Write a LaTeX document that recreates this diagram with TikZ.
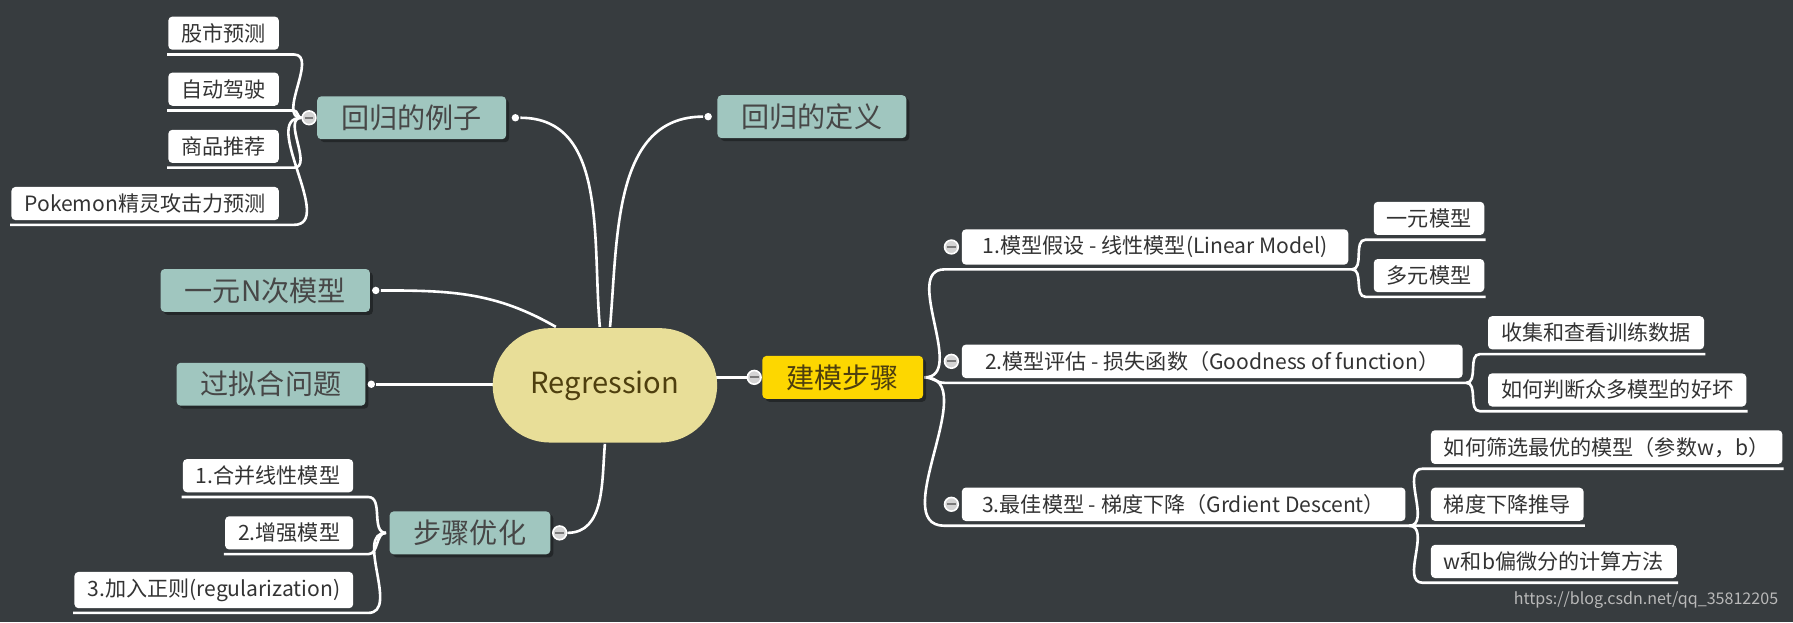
\documentclass[tikz,border=0pt]{standalone}
\usepackage{fontspec}
\setmainfont{Noto Sans CJK SC}
\usetikzlibrary{calc, positioning, shapes.misc, shadows, backgrounds}
\definecolor{cbg}{HTML}{373C3F}
\definecolor{cteal}{HTML}{A0C6BF}
\definecolor{cyellow}{HTML}{E8DE98}
\definecolor{cgold}{HTML}{FDD700}
\definecolor{cink}{HTML}{333333}
\definecolor{ctopic}{HTML}{474747}
\definecolor{cbrown}{HTML}{4E3F0E}
\definecolor{cfold}{HTML}{D4D4D4}
\definecolor{cmark}{HTML}{7A7A7A}
\newcommand\leaffont{\fontsize{10.5}{12}\selectfont}
\newcommand\topicfont{\fontsize{14}{16}\selectfont}
\tikzset{
  every picture/.style={line width=1.3pt},
  leaf/.style={fill=white, rounded corners=2pt, text=cink, font=\leaffont, inner xsep=6.5pt, minimum height=0.58cm},
  topic/.style={fill=#1, rounded corners=2pt, text=ctopic, font=\topicfont, inner xsep=12pt, minimum height=0.75cm,
    drop shadow={shadow xshift=1.5pt, shadow yshift=-1.5pt, fill=black, opacity=0.35}},
  topic/.default=cteal,
  branch/.style={draw=white, line width=1.3pt},
  fold/.style={circle, draw=white, fill=cfold, line width=0.8pt, minimum size=0.24cm, inner sep=0pt,
    path picture={\draw[cmark, line width=0.9pt] ([xshift=-2.2pt]path picture bounding box.center) -- ([xshift=2.2pt]path picture bounding box.center);}},
  knob/.style={circle, fill=white, minimum size=0.13cm, inner sep=0pt},
}

\begin{document}
\begin{tikzpicture}[x=0.02cm, y=0.02cm]
  \useasboundingbox (0,0) rectangle (1568,-544);
  % centre
  \node[rounded rectangle, fill=cyellow, text=cbrown, font=\fontsize{14.5}{16}\selectfont, minimum width=4.16cm, minimum height=2cm] (reg) at (529,-337) {Regression};
  % examples
  \node[topic] (ex) at (360,-103) {回归的例子};
  \node[fold] (exf) at ($(ex.west)+(-6,0)$) {};
  \node[knob] (exk) at ($(ex.east)+(7,0)$) {};
  \node[leaf, anchor=east] (s1) at (245,-29) {股市预测};
  \node[leaf, anchor=east] (s2) at (245,-78) {自动驾驶};
  \node[leaf, anchor=east] (s3) at (245,-128) {商品推荐};
  \node[leaf, anchor=east] (s4) at (245,-178) {Pokemon精灵攻击力预测};
  % single topics
  \node[topic] (def) at (710,-102) {回归的定义};
  \node[knob] (defk) at ($(def.west)+(-7,0)$) {};
  \node[topic] (one) at (232,-254) {一元N次模型};
  \node[knob] (onek) at ($(one.east)+(4,0)$) {};
  \node[topic] (fit) at (237,-336) {过拟合问题};
  \node[knob] (fitk) at ($(fit.east)+(4,0)$) {};
  % optimisation
  \node[topic] (opt) at (411,-466) {步骤优化};
  \node[fold] (optf) at ($(opt.east)+(7,0)$) {};
  \coordinate (optb) at ($(opt.west)+(-2,0)$);
  \node[leaf, anchor=east] (o1) at (310,-416) {1.合并线性模型};
  \node[leaf, anchor=east] (o2) at (310,-466) {2.增强模型};
  \node[leaf, anchor=east] (o3) at (310,-516) {3.加入正则(regularization)};
  % modelling steps
  \node[topic=cgold, text=cbrown] (mk) at (737,-330) {建模步骤};
  \node[fold] (mkf) at ($(mk.west)+(-6,0)$) {};
  \node[leaf, anchor=west, minimum width=6.76cm] (m1) at (840,-216) {1.模型假设 - 线性模型(Linear Model)};
  \node[leaf, anchor=west, minimum width=8.76cm] (m2) at (840,-316) {2.模型评估 - 损失函数（Goodness of function）};
  \node[leaf, anchor=west, minimum width=7.76cm] (m3) at (840,-441) {3.最佳模型 - 梯度下降（Grdient Descent）};
  \foreach \n in {m1,m2,m3}
    \node[fold] (f\n) at ($(\n.west)+(-8,0)$) {};
  \node[leaf, anchor=west] (a1) at ($(m1.east)+(20,25)$) {一元模型};
  \node[leaf, anchor=west] (a2) at ($(m1.east)+(20,-25)$) {多元模型};
  \node[leaf, anchor=west] (b1) at ($(m2.east)+(20,25)$) {收集和查看训练数据};
  \node[leaf, anchor=west] (b2) at ($(m2.east)+(20,-25)$) {如何判断众多模型的好坏};
  \node[leaf, anchor=west] (c1) at ($(m3.east)+(20,50)$) {如何筛选最优的模型（参数w，b）};
  \node[leaf, anchor=west] (c2) at ($(m3.east)+(20,0)$) {梯度下降推导};
  \node[leaf, anchor=west] (c3) at ($(m3.east)+(20,-50)$) {w和b偏微分的计算方法};
  \node[anchor=east, text=gray!55, font=\fontsize{8}{9}\selectfont] (url) at (1562,-525) {https://blog.csdn.net/qq\_35812205};

  % branches behind the boxes
  \begin{scope}[on background layer]
    \fill[cbg] (0,0) rectangle (1568,-544);
    \draw[branch] (reg.95) to[out=95, in=0] (exk);
    \draw[branch] (reg.85) to[out=85, in=180] (defk);
    \draw[branch] (reg.130) to[out=150, in=0] (onek);
    \draw[branch] (reg.center |- fitk) -- (fitk);
    \draw[branch] (reg.south) to[out=-95, in=0] (optf);
    \draw[branch] (reg.center |- mkf) -- (mkf);
    \foreach \n in {s1,s2,s3,s4}
      \draw[branch] (exf) to[out=180, in=0] ($(\n.south east)+(12,-3)$) -- ($(\n.south west)+(0,-3)$);
    \foreach \n in {o1,o2,o3}
      \draw[branch] (optb) to[out=180, in=0] ($(\n.south east)+(12,-3)$) -- ($(\n.south west)+(0,-3)$);
    \foreach \n in {m1,m2,m3}
      \draw[branch] (mk.east) to[out=0, in=180] ($(\n.south west)+(-14,-3)$) -- ($(\n.south east)+(2,-3)$);
    \foreach \p/\n in {m1/a1, m1/a2, m2/b1, m2/b2, m3/c1, m3/c2, m3/c3}
      \draw[branch] ($(\p.south east)+(2,-3)$) to[out=0, in=180] ($(\n.south west)+(-6,-3)$) -- ($(\n.south east)+(0,-3)$);
  \end{scope}
\end{tikzpicture}
\end{document}
